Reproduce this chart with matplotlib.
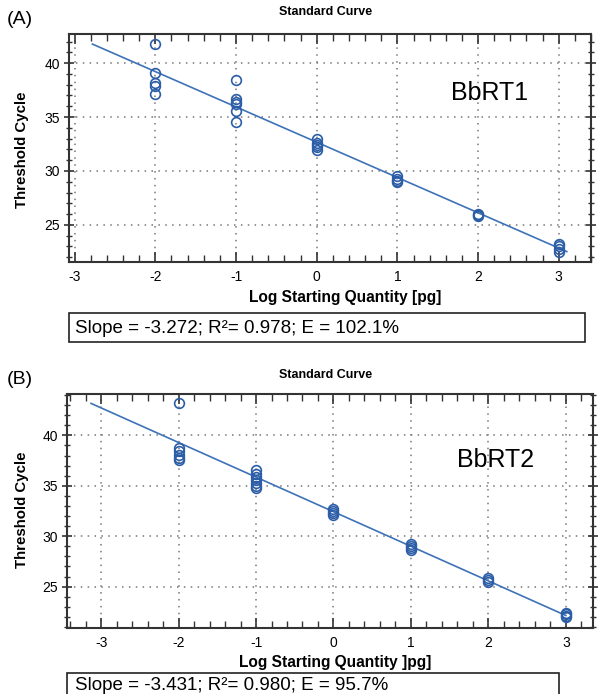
import matplotlib
matplotlib.use("Agg")
import matplotlib.pyplot as plt
from matplotlib.patches import Rectangle
from matplotlib.ticker import MultipleLocator
import numpy as np

plt.rcParams['font.family'] = ['Liberation Sans', 'DejaVu Sans']
plt.rcParams['axes.unicode_minus'] = False

# ---------------- data ----------------
# Panel A (BbRT1)
a_x = [-2]*5 + [-1]*6 + [0]*5 + [1]*4 + [2]*3 + [3]*4
a_y = [41.8, 39.1, 38.2, 37.9, 37.1,
       38.4, 36.7, 36.4, 36.2, 35.6, 34.5,
       33.0, 32.6, 32.4, 32.2, 31.9,
       29.5, 29.3, 29.1, 29.0,
       26.0, 25.9, 25.8,
       23.2, 23.0, 22.8, 22.5]
a_slope, a_intercept = -3.272, 32.67
a_line_x = [-2.78, 3.1]
a_label = "BbRT1"
a_stats = "Slope = -3.272; R\u00b2= 0.978; E = 102.1%"
a_xlabel = "Log Starting Quantity [pg]"

# Panel B (BbRT2)
b_x = [-2]*6 + [-1]*7 + [0]*4 + [1]*4 + [2]*3 + [3]*4
b_y = [43.2, 38.7, 38.4, 38.1, 37.8, 37.6,
       36.6, 36.2, 35.9, 35.6, 35.3, 35.0, 34.8,
       32.7, 32.5, 32.3, 32.1,
       29.2, 29.0, 28.8, 28.6,
       25.9, 25.7, 25.5,
       22.4, 22.3, 22.1, 22.0]
b_slope, b_intercept = -3.431, 32.43
b_line_x = [-3.13, 3.0]
b_label = "BbRT2"
b_stats = "Slope = -3.431; R\u00b2= 0.980; E = 95.7%"
b_xlabel = "Log Starting Quantity ]pg]"

title = "Standard Curve"
ylabel = "Threshold Cycle"
x_ticks = [-3, -2, -1, 0, 1, 2, 3]
y_ticks = [25, 30, 35, 40]

# ---------------- figure ----------------
W, H = 599, 694
fig = plt.figure(figsize=(W/100, H/100), dpi=100)

def fx(px):
    return px / W

def fy(py):
    return 1 - py / H

mark_c = '#2c5ea8'
line_c = '#3d72b8'
spine_c = '#333333'


def panel(rect, xs, ys, slope, intercept, line_x, xlim, ylim):
    l, t, r, b = rect
    ax = fig.add_axes([fx(l), fy(b), fx(r - l), (b - t) / H])
    lx = np.array(line_x)
    ax.plot(lx, slope * lx + intercept, color=line_c, lw=1.2, zorder=2)
    ax.plot(xs, ys, 'o', ms=7, mfc='none', mec=mark_c, mew=1.2, zorder=3)
    ax.set_xlim(*xlim)
    ax.set_ylim(*ylim)
    ax.set_xticks(x_ticks)
    ax.set_yticks(y_ticks)
    ax.xaxis.set_minor_locator(MultipleLocator(0.2))
    ax.yaxis.set_minor_locator(MultipleLocator(1))
    ax.grid(True, which='major', color='#777777', linestyle=(0, (1, 3.5)), lw=1.1)
    for s in ax.spines.values():
        s.set_color(spine_c)
        s.set_linewidth(1.5)
    ax.tick_params(axis='x', which='both', direction='in', top=True, bottom=True,
                   color=spine_c, labelsize=10, pad=6)
    ax.tick_params(axis='y', which='both', direction='inout', left=True, right=True,
                   color=spine_c, labelsize=10, pad=3)
    ax.tick_params(which='major', length=7, width=1.2)
    ax.tick_params(which='minor', length=5, width=1.0)
    return ax

# Panel A
axA = panel((69, 34, 591, 262), a_x, a_y, a_slope, a_intercept, a_line_x,
            (-3.07, 3.40), (21.56, 42.7))
axA.text(0.806, 0.74, a_label, transform=axA.transAxes, fontsize=18,
         ha='center', va='center')
fig.text(fx(7), fy(20), "(A)", fontsize=14, ha='left', va='center')
fig.text(fx(326), fy(12), title, fontsize=9, fontweight='bold', ha='center', va='center')
fig.text(fx(22), fy(150), ylabel, fontsize=10.8, fontweight='bold', rotation=90,
         ha='center', va='center')
fig.text(fx(345), fy(297), a_xlabel, fontsize=11.2, fontweight='bold', ha='center', va='center')
fig.add_artist(Rectangle((fx(69), fy(342)), fx(585 - 69), (342 - 313) / H,
                         transform=fig.transFigure, fill=False, ec='#222222', lw=1.2))
fig.text(fx(75), fy(328), a_stats, fontsize=13.5, ha='left', va='center')

# Panel B
axB = panel((67, 394, 593, 628), b_x, b_y, b_slope, b_intercept, b_line_x,
            (-3.44, 3.35), (20.9, 44.1))
axB.text(0.814, 0.72, b_label, transform=axB.transAxes, fontsize=18,
         ha='center', va='center')
fig.text(fx(7), fy(380), "(B)", fontsize=14, ha='left', va='center')
fig.text(fx(326), fy(375), title, fontsize=9, fontweight='bold', ha='center', va='center')
fig.text(fx(22), fy(510), ylabel, fontsize=10.8, fontweight='bold', rotation=90,
         ha='center', va='center')
fig.text(fx(335), fy(663), b_xlabel, fontsize=11.2, fontweight='bold', ha='center', va='center')
fig.add_artist(Rectangle((fx(67), fy(700)), fx(559 - 67), (700 - 673) / H,
                         transform=fig.transFigure, fill=False, ec='#222222', lw=1.2))
fig.text(fx(75), fy(685), b_stats, fontsize=13.5, ha='left', va='center')

fig.savefig("out.png", dpi=100)
